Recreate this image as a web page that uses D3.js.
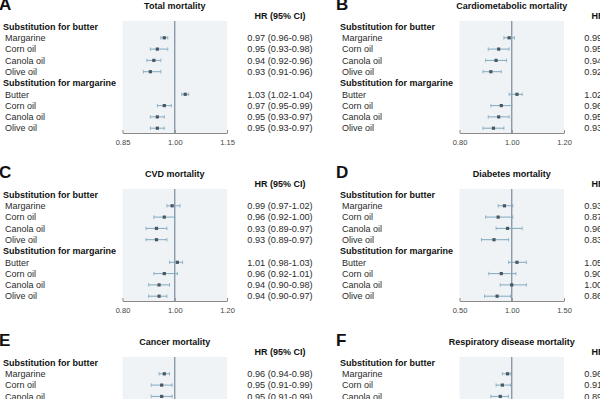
<!DOCTYPE html>
<html>
<head>
<meta charset="utf-8">
<script src="https://cdn.jsdelivr.net/npm/d3@7"></script>
<style>
  body { margin: 0; background: #fff; }
  svg { display: block; font-family: "Liberation Sans", Arial, sans-serif; }
</style>
</head>
<body>
<div id="container"></div>
<script>
// panel info
const panelLetters = ["A", "B", "C", "D", "E", "F"];
const panelTitles = [
    "Total mortality",
    "Cardiometabolic mortality",
    "CVD mortality",
    "Diabetes mortality",
    "Cancer mortality",
    "Respiratory disease mortality",
];
const groupHeaders = ["Substitution for butter", "Substitution for margarine"];
const butterSubs = ["Margarine", "Corn oil", "Canola oil", "Olive oil"];
const margarineSubs = ["Butter", "Corn oil", "Canola oil", "Olive oil"];
const axisDomains = [[0.85, 1.15], [0.8, 1.2], [0.8, 1.2], [0.5, 1.5], [0.8, 1.2], [0.5, 1.5]];
const axisTicks = [[0.85, 1.0, 1.15], [0.8, 1.0, 1.2], [0.8, 1.0, 1.2], [0.5, 1.0, 1.5], [0.8, 1.0, 1.2], [0.5, 1.0, 1.5]];

// hazard ratios (butter rows first, then margarine rows)
const totalHR = [0.97, 0.95, 0.94, 0.93, 1.03, 0.97, 0.95, 0.95];
const totalLo = [0.96, 0.93, 0.92, 0.91, 1.02, 0.95, 0.93, 0.93];
const totalHi = [0.98, 0.98, 0.96, 0.96, 1.04, 0.99, 0.97, 0.97];

const cardioHR = [0.99, 0.95, 0.94, 0.92, 1.02, 0.96, 0.95, 0.93];
const cardioLo = [0.97, 0.91, 0.9, 0.89, 0.99, 0.92, 0.91, 0.89];
const cardioHi = [1.01, 0.99, 0.98, 0.96, 1.04, 1.0, 0.99, 0.97];

const cvdHR = [0.99, 0.96, 0.93, 0.93, 1.01, 0.96, 0.94, 0.94];
const cvdLo = [0.97, 0.92, 0.89, 0.89, 0.98, 0.92, 0.9, 0.9];
const cvdHi = [1.02, 1.0, 0.97, 0.97, 1.03, 1.01, 0.98, 0.97];

const diabetesHR = [0.93, 0.87, 0.96, 0.83, 1.05, 0.9, 1.0, 0.86];
const diabetesLo = [0.87, 0.75, 0.85, 0.71, 0.97, 0.78, 0.89, 0.74];
const diabetesHi = [1.01, 1.01, 1.1, 0.97, 1.14, 1.04, 1.14, 0.99];

// only the first rows of E and F are visible
const cancerHR = [0.96, 0.95, 0.95];
const cancerLo = [0.94, 0.91, 0.91];
const cancerHi = [0.98, 0.99, 0.99];

const respHR = [0.96, 0.91, 0.89];
const respLo = [0.91, 0.85, 0.8];
const respHi = [0.99, 0.99, 0.97];

const panelHR = [totalHR, cardioHR, cvdHR, diabetesHR, cancerHR, respHR];
const panelLo = [totalLo, cardioLo, cvdLo, diabetesLo, cancerLo, respLo];
const panelHi = [totalHi, cardioHi, cvdHi, diabetesHi, cancerHi, respHi];

const W = 600, H = 399;
const COL_X = [0, 337];
const ROW_Y = [0, 168, 336];
const PLOT_X0 = 122.5, PLOT_X1 = 227;
const PLOT_TOP = 21, PLOT_BOTTOM = 133;
const HR_CX = 280;

const svg = d3.select("#container").append("svg")
    .attr("width", W).attr("height", H);

const rowY = d3.scaleLinear().domain([0, 9]).range([26.5, 128.2]);
const fmt = d3.format(".2f");

const drawPanel = (p) => {
    const g = svg.append("g")
        .attr("transform", `translate(${COL_X[p % 2]},${ROW_Y[Math.floor(p / 2)]})`);
    const x = d3.scaleLinear().domain(axisDomains[p]).range([PLOT_X0, PLOT_X1]);

    // letter, title, HR header
    g.append("text").attr("x", -1).attr("y", 9.5)
        .attr("font-size", 17).attr("font-weight", "bold").attr("fill", "#111")
        .text(panelLetters[p]);
    g.append("text").attr("x", (PLOT_X0 + PLOT_X1) / 2).attr("y", 8.5)
        .attr("text-anchor", "middle").attr("font-size", 9).attr("font-weight", "bold")
        .attr("fill", "#111").text(panelTitles[p]);
    g.append("text").attr("x", HR_CX).attr("y", 18.5)
        .attr("text-anchor", "middle").attr("font-size", 9).attr("font-weight", "bold")
        .attr("fill", "#111").text("HR (95% CI)");

    // plot background
    g.append("rect")
        .attr("x", PLOT_X0).attr("y", PLOT_TOP)
        .attr("width", PLOT_X1 - PLOT_X0).attr("height", PLOT_BOTTOM - PLOT_TOP)
        .attr("fill", "#eff3f6");

    // rows: header, 4 items, header, 4 items
    const rows = [];
    rows.push({ label: groupHeaders[0], header: true, i: 0 });
    butterSubs.forEach((s, k) => rows.push({ label: s, header: false, i: 1 + k, d: k }));
    rows.push({ label: groupHeaders[1], header: true, i: 5 });
    margarineSubs.forEach((s, k) => rows.push({ label: s, header: false, i: 6 + k, d: 4 + k }));

    const hr = panelHR[p], lo = panelLo[p], hi = panelHi[p];
    const items = rows.filter((r) => !r.header && r.d < hr.length)
        .map((r) => ({ y: rowY(r.i), hr: hr[r.d], lo: lo[r.d], hi: hi[r.d] }));

    g.selectAll("text.lab")
        .data(rows)
        .join("text")
        .attr("class", "lab")
        .attr("x", (d) => (d.header ? 3 : 5))
        .attr("y", (d) => rowY(d.i) + 3.2)
        .attr("font-size", 9)
        .attr("font-weight", (d) => (d.header ? "bold" : "normal"))
        .attr("fill", (d) => (d.header ? "#111" : "#2b2b2b"))
        .text((d) => d.label);

    // reference line
    g.append("line")
        .attr("x1", x(1)).attr("x2", x(1))
        .attr("y1", PLOT_TOP).attr("y2", PLOT_BOTTOM)
        .attr("stroke", "#7a8b9c").attr("stroke-width", 1.2);

    // CI whiskers
    const ci = g.selectAll("g.ci").data(items).join("g").attr("class", "ci");
    ci.append("line")
        .attr("x1", (d) => x(d.lo)).attr("x2", (d) => x(d.hi))
        .attr("y1", (d) => d.y).attr("y2", (d) => d.y)
        .attr("stroke", "#7fa9bf").attr("stroke-width", 1);
    ci.append("line")
        .attr("x1", (d) => x(d.lo)).attr("x2", (d) => x(d.lo))
        .attr("y1", (d) => d.y - 1.8).attr("y2", (d) => d.y + 1.8)
        .attr("stroke", "#7fa9bf").attr("stroke-width", 0.8);
    ci.append("line")
        .attr("x1", (d) => x(d.hi)).attr("x2", (d) => x(d.hi))
        .attr("y1", (d) => d.y - 1.8).attr("y2", (d) => d.y + 1.8)
        .attr("stroke", "#7fa9bf").attr("stroke-width", 0.8);
    ci.append("rect")
        .attr("x", (d) => x(d.hr) - 1.6).attr("y", (d) => d.y - 1.6)
        .attr("width", 3.2).attr("height", 3.2)
        .attr("fill", "#4a5662");

    // HR text
    g.selectAll("text.hr")
        .data(items)
        .join("text")
        .attr("class", "hr")
        .attr("x", HR_CX)
        .attr("y", (d) => d.y + 3.2)
        .attr("text-anchor", "middle")
        .attr("font-size", 9.2)
        .attr("fill", "#2b2b2b")
        .text((d) => `${fmt(d.hr)} (${fmt(d.lo)}-${fmt(d.hi)})`);

    // x axis
    const ax = g.append("g")
        .attr("transform", `translate(0,${PLOT_BOTTOM})`)
        .call(d3.axisBottom(x).tickValues(axisTicks[p]).tickFormat(fmt).tickSize(-3).tickSizeOuter(0));
    ax.select(".domain").attr("stroke", "#8a8a8a");
    ax.selectAll(".tick line").attr("stroke", "#8a8a8a");
    ax.selectAll(".tick text")
        .attr("y", 7)
        .attr("font-size", 7.5)
        .attr("font-family", "'Liberation Sans', Arial, sans-serif")
        .attr("fill", "#444");
};

for (let p = 0; p < panelLetters.length; p++) {
    drawPanel(p);
}
</script>
</body>
</html>
